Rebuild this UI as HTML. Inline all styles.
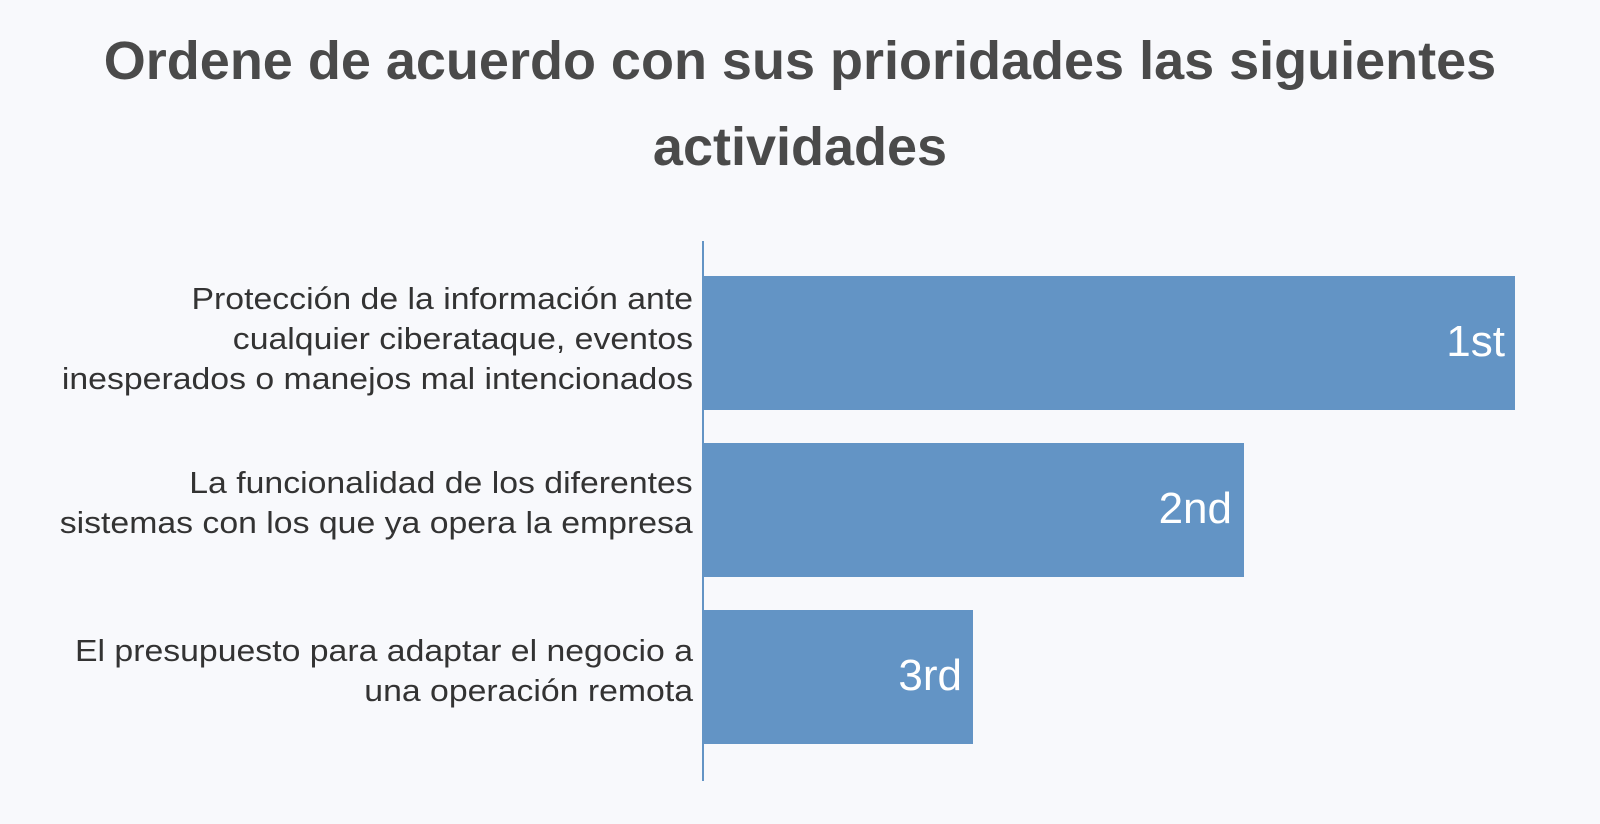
<!DOCTYPE html>
<html><head><meta charset="utf-8"><style>
body{margin:0;width:1600px;height:824px;background:#f8f9fc;font-family:"Liberation Sans",sans-serif;overflow:hidden;position:relative}
.t{position:absolute;left:0;width:1600px;text-align:center;font-weight:bold;font-size:54px;color:#4a4a4a}
.lab{position:absolute;right:907px;text-align:right;font-size:31px;line-height:40px;color:#333;transform:scaleX(1.09);transform-origin:right center;white-space:nowrap}
.bar{position:absolute;left:704px;background:#6394c5}
.v{position:absolute;color:#fff;font-size:44px;text-align:right}
</style></head><body>
<div class="t" style="top:30px">Ordene de acuerdo con sus prioridades las siguientes</div>
<div class="t" style="top:116px">actividades</div>
<div style="position:absolute;left:702px;top:241px;width:2px;height:540px;background:#6394c5"></div>
<div class="bar" style="top:276px;width:811px;height:134px"></div>
<div class="bar" style="top:443px;width:540px;height:134px"></div>
<div class="bar" style="top:610px;width:269px;height:134px"></div>
<div class="v" style="right:95px;top:317px">1st</div>
<div class="v" style="right:368px;top:484px">2nd</div>
<div class="v" style="right:638px;top:651px">3rd</div>
<div class="lab" style="top:279px">Protección de la información ante<br>cualquier ciberataque, eventos<br>inesperados o manejos mal intencionados</div>
<div class="lab" style="top:463px">La funcionalidad de los diferentes<br>sistemas con los que ya opera la empresa</div>
<div class="lab" style="top:631px">El presupuesto para adaptar el negocio a<br>una operación remota</div>
</body></html>
